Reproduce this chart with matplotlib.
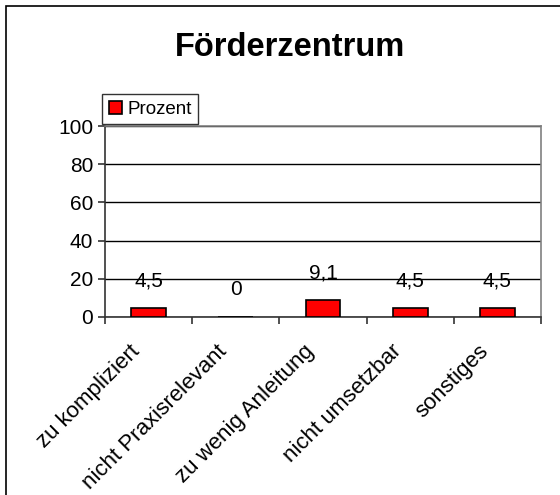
import matplotlib.pyplot as plt
from matplotlib.patches import Rectangle
from matplotlib.transforms import ScaledTranslation

# data
categories = ['zu kompliziert', 'nicht Praxisrelevant', 'zu wenig Anleitung',
              'nicht umsetzbar', 'sonstiges']
prozent = [4.5, 0, 9.1, 4.5, 4.5]
value_labels = ['4,5', '0', '9,1', '4,5', '4,5']
yticks = [0, 20, 40, 60, 80, 100]

plt.rcParams['font.family'] = ['Liberation Sans', 'DejaVu Sans']

W, H = 560, 495
fig = plt.figure(figsize=(W / 100, H / 100), dpi=100)
ax = fig.add_axes([105 / W, 1 - 317 / H, 436 / W, 191 / H])

# outer chart frame
fig.patches.append(Rectangle((6 / W, -0.05), 1.2, 1 - 6 / H + 0.05,
                             transform=fig.transFigure, fill=False,
                             edgecolor='black', linewidth=1.2))

x = list(range(len(categories)))
ax.bar(x, prozent, width=0.4, color='#ff0000', edgecolor='black',
       linewidth=1.2, label='Prozent', zorder=3)

for xi, v, lab in zip(x, prozent, value_labels):
    ax.annotate(lab, (xi, v), xytext=(0, 19.5), textcoords='offset points',
                ha='center', va='center', fontsize=15)

ax.set_xlim(-0.5, len(categories) - 0.5)
ax.set_ylim(0, 100)
ax.set_yticks(yticks)
ax.set_yticklabels([str(t) for t in yticks], fontsize=15)
ax.yaxis.grid(True, color='black', linewidth=1)
ax.set_axisbelow(True)

# ticks between categories, labels drawn as rotated texts
ax.set_xticks([i - 0.5 for i in x] + [x[-1] + 0.5])
ax.set_xticklabels([])
lab_trans = ax.get_xaxis_transform() + ScaledTranslation(-0.12, -0.31, fig.dpi_scale_trans)
for xi, cat in zip(x, categories):
    ax.text(xi, 0, cat, transform=lab_trans, rotation=45, ha='right',
            va='center', rotation_mode='anchor', fontsize=16)
ax.tick_params(axis='x', length=5, width=1.2, color='#333333')
ax.tick_params(axis='y', length=5, width=1.2, color='#333333')

for side in ['top', 'right']:
    ax.spines[side].set_color('#808080')
    ax.spines[side].set_linewidth(1.2)
for side in ['left', 'bottom']:
    ax.spines[side].set_color('#333333')
    ax.spines[side].set_linewidth(1.2)

fig.text(290 / W, 1 - 48 / H, 'Förderzentrum', ha='center', va='center',
         fontsize=23.5, fontweight='bold')

leg = fig.legend(loc='upper left', bbox_to_anchor=(102 / W, 1 - 94 / H),
                 fontsize=13.5, frameon=True, fancybox=False, borderpad=0.35,
                 handlelength=0.7, handleheight=0.7, handletextpad=0.3,
                 borderaxespad=0)
leg.get_frame().set_edgecolor('black')
leg.get_frame().set_linewidth(1)

fig.savefig('out.png', dpi=100)
